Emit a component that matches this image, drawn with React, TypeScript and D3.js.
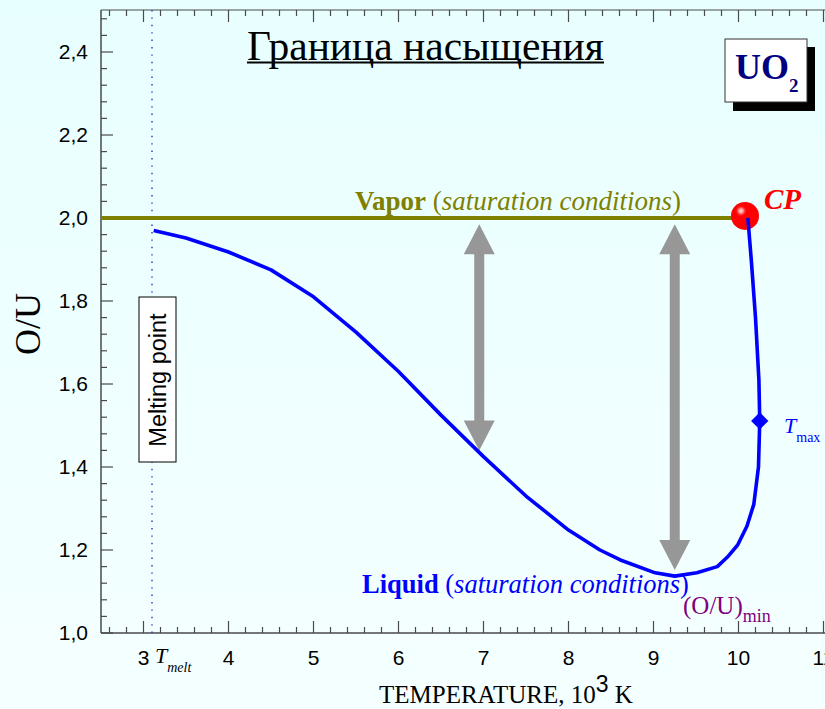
import React from "react";
import * as d3 from "d3";

const W = 825;
const H = 709;

// Liquid saturation boundary (T in 10^3 K, O/U)
const liquidT = [3.12, 3.5, 4.0, 4.5, 5.0, 5.5, 6.0, 6.5, 7.0, 7.5, 8.0, 8.37, 8.61, 9.02, 9.25, 9.51, 9.75, 9.87, 9.99, 10.1, 10.18, 10.235, 10.25, 10.24, 10.2, 10.15, 10.11];
const liquidOU = [1.97, 1.952, 1.918, 1.875, 1.81, 1.725, 1.63, 1.525, 1.425, 1.33, 1.248, 1.2, 1.176, 1.145, 1.137, 1.145, 1.16, 1.183, 1.212, 1.258, 1.31, 1.4, 1.511, 1.61, 1.76, 1.9, 2.0];

// Vapor saturation boundary
const vaporT = [2.5, 10.11];
const vaporOU = [2.0, 2.0];

// Special points
const meltT = 3.1;
const cpT = 10.1;
const cpOU = 2.005;
const tmaxT = 10.25;
const tmaxOU = 1.511;

// Double arrows
const arrowT = [6.95, 9.25];
const arrowTop = [1.985, 1.985];
const arrowBottom = [1.44, 1.152];

// Axis ticks
const xMajor = [3, 4, 5, 6, 7, 8, 9, 10, 11];
const yMajor = [1.0, 1.2, 1.4, 1.6, 1.8, 2.0, 2.2, 2.4];

const x = d3.scaleLinear().domain([2.5, 11]).range([101, 823.5]);
const y = d3.scaleLinear().domain([1, 2.5]).range([633, 10.5]);

const serif = "'Liberation Serif', 'Times New Roman', serif";
const sans = "'Liberation Sans', Arial, sans-serif";

function Arrow({ t, top, bottom }: { t: number; top: number; bottom: number }) {
  const cx = x(t);
  const y1 = y(top);
  const y2 = y(bottom);
  const hw = 15.5, hl = 30, sw = 5;
  const d = [
    `M${cx},${y1}`,
    `L${cx + hw},${y1 + hl}`,
    `L${cx + sw},${y1 + hl}`,
    `L${cx + sw},${y2 - hl}`,
    `L${cx + hw},${y2 - hl}`,
    `L${cx},${y2}`,
    `L${cx - hw},${y2 - hl}`,
    `L${cx - sw},${y2 - hl}`,
    `L${cx - sw},${y1 + hl}`,
    `L${cx - hw},${y1 + hl}`,
    "Z",
  ].join(" ");
  return <path d={d} fill="#979797" />;
}

export default function App() {
  const xMinor = d3.range(2.6, 11.001, 0.2);
  const yMinor = d3.range(1.0, 2.501, 0.04);
  const liquidPts: [number, number][] = liquidT.map((t, i) => [t, liquidOU[i]]);
  const line = d3
    .line<[number, number]>()
    .x((d) => x(d[0]))
    .y((d) => y(d[1]));
  const vaporPts: [number, number][] = vaporT.map((t, i) => [t, vaporOU[i]]);
  const isMajorX = (v: number) => Math.abs(v - Math.round(v)) < 1e-6;
  const isMajorY = (v: number) => Math.abs(v * 5 - Math.round(v * 5)) < 1e-6;
  const axisColor = "#4a4a4a";
  const diamond = d3.symbol().type(d3.symbolSquare).size(150)();
  const cpx = x(cpT) - 2;
  const cpy = y(cpOU);

  return (
    <svg
      width={W}
      height={H}
      style={{ position: "absolute", left: 0, top: 0 }}
      xmlns="http://www.w3.org/2000/svg"
    >
      <defs>
        <linearGradient id="bg" x1="0" y1="0" x2="0" y2="1">
          <stop offset="0" stopColor="#e8ffff" />
          <stop offset="1" stopColor="#f5ffff" />
        </linearGradient>
        <radialGradient id="cph" cx="0.5" cy="0.5" r="0.5">
          <stop offset="0" stopColor="#ffffff" stopOpacity="0.9" />
          <stop offset="0.4" stopColor="#ffb0b0" stopOpacity="0.8" />
          <stop offset="1" stopColor="#ff0000" stopOpacity="0" />
        </radialGradient>
      </defs>
      <rect x={0} y={0} width={W} height={H} fill="url(#bg)" />

      {/* Axes */}
      <line x1={101} x2={W} y1={633} y2={633} stroke={axisColor} strokeWidth={1.5} />
      <line x1={101} x2={W} y1={10} y2={10} stroke={axisColor} strokeWidth={1.2} />
      <line x1={101} x2={101} y1={10} y2={633} stroke={axisColor} strokeWidth={1.5} />
      {xMinor.map((v, i) => {
        const L = isMajorX(v) ? 12 : 6;
        return (
          <g key={"xt" + i}>
            <line x1={x(v)} x2={x(v)} y1={633} y2={633 - L} stroke={axisColor} strokeWidth={1.2} />
            <line x1={x(v)} x2={x(v)} y1={10} y2={10 + L} stroke={axisColor} strokeWidth={1.2} />
          </g>
        );
      })}
      {yMinor.map((v, i) => {
        const L = isMajorY(v) ? 12 : 6;
        return (
          <line key={"yt" + i} x1={101} x2={101 + L} y1={y(v)} y2={y(v)} stroke={axisColor} strokeWidth={1.2} />
        );
      })}
      {xMajor.map((v) => (
        <text key={"xl" + v} x={x(v)} y={665} textAnchor="middle" fontFamily={sans} fontSize={21} fill="#000">
          {v}
        </text>
      ))}
      {yMajor.map((v) => (
        <text key={"yl" + v} x={88} y={y(v) + 7} textAnchor="end" fontFamily={sans} fontSize={21} fill="#000">
          {v.toFixed(1).replace(".", ",")}
        </text>
      ))}

      {/* Axis titles */}
      <text x={379} y={703} fontFamily={serif} fontSize={25} fill="#000">
        TEMPERATURE, 10
        <tspan fontFamily={sans} fontSize={23} dy={-11}>3</tspan>
        <tspan dy={11}> K</tspan>
      </text>
      <text transform="translate(40,324) rotate(-90)" textAnchor="middle" fontFamily={serif} fontSize={36} fill="#000">
        O/U
      </text>

      {/* Melting point */}
      <line x1={x(meltT)} x2={x(meltT)} y1={10} y2={633} stroke="#3030d0" strokeWidth={1.4} strokeDasharray="1.4,6" />
      <rect x={139} y={297} width={37} height={165} fill="#fff" stroke="#000" strokeWidth={1} />
      <text transform="translate(166,380) rotate(-90)" textAnchor="middle" fontFamily={sans} fontSize={23.5} fill="#000">
        Melting point
      </text>
      <text x={155} y={663} fontFamily={serif} fontStyle="italic" fontSize={22} fill="#000">
        T
        <tspan fontSize={14} dy={9}>melt</tspan>
      </text>

      {/* Arrows */}
      {arrowT.map((t, i) => (
        <Arrow key={"ar" + i} t={t} top={arrowTop[i]} bottom={arrowBottom[i]} />
      ))}

      {/* Vapor */}
      <path d={line(vaporPts) || ""} fill="none" stroke="#808000" strokeWidth={4} />
      <text x={355} y={210} fontFamily={serif} fontSize={27} fill="#808000">
        <tspan fontWeight="bold">Vapor</tspan>
        <tspan> (</tspan>
        <tspan fontStyle="italic">saturation conditions</tspan>
        <tspan>)</tspan>
      </text>

      {/* CP */}
      <circle cx={cpx} cy={cpy} r={14} fill="#ff0000" />
      <circle cx={cpx - 4} cy={cpy - 5} r={6} fill="url(#cph)" />

      {/* Liquid */}
      <path d={line(liquidPts) || ""} fill="none" stroke="#0000ff" strokeWidth={3.6} strokeLinejoin="round" />
      <path d={diamond} transform={`translate(${x(tmaxT)},${y(tmaxOU)}) rotate(45)`} fill="#0000ff" />
      <text x={362} y={593} fontFamily={serif} fontSize={26.5} fill="#0000ff">
        <tspan fontWeight="bold">Liquid</tspan>
        <tspan> (</tspan>
        <tspan fontStyle="italic">saturation conditions</tspan>
        <tspan>)</tspan>
      </text>
      <text x={683} y={614} fontFamily={serif} fontSize={25} fill="#800080">
        (O/U)
        <tspan fontSize={18} dy={8}>min</tspan>
      </text>
      <text x={784} y={433} fontFamily={serif} fontStyle="italic" fontSize={22} fill="#0000ff">
        T
        <tspan fontStyle="normal" fontSize={14} dy={9}>max</tspan>
      </text>

      <text x={764} y={209} fontFamily={serif} fontStyle="italic" fontWeight="bold" fontSize={29} fill="#ff0000">
        CP
      </text>

      {/* Title */}
      <text x={425.5} y={60} textAnchor="middle" fontFamily={serif} fontSize={41.5} fill="#000">
        Граница насыщения
      </text>
      <line x1={247} x2={604} y1={62.5} y2={62.5} stroke="#000" strokeWidth={2} />

      {/* UO2 badge */}
      <rect x={733} y={47} width={82} height={64} fill="#000" />
      <rect x={725} y={39} width={82} height={63} fill="#fff" stroke="#333" strokeWidth={1} />
      <text x={735} y={79} fontFamily={serif} fontWeight="bold" fontSize={36} fill="#000080">
        UO
        <tspan fontSize={19} dy={13}>2</tspan>
      </text>
    </svg>
  );
}
